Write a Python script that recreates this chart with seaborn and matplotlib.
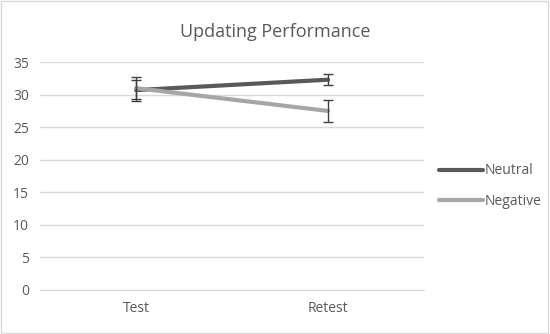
import matplotlib
matplotlib.use("Agg")
import matplotlib.pyplot as plt
import seaborn as sns
import pandas as pd

# data
sessions = ["Test", "Retest"]
neutral = [30.7, 32.3]
negative = [31.0, 27.5]
neutral_err = [1.6, 0.8]
negative_err = [1.7, 1.7]

df = pd.DataFrame({
    "x": [0, 1, 0, 1],
    "score": neutral + negative,
    "group": ["Neutral"] * 2 + ["Negative"] * 2,
})

sns.set_style("white")
plt.rcParams["font.family"] = ["Open Sans", "DejaVu Sans"]

fig = plt.figure(figsize=(5.5, 3.34), dpi=100)
ax = fig.add_axes([0.073, 0.132, 0.698, 0.682])

pal = {"Neutral": "#595959", "Negative": "#a6a6a6"}
sns.lineplot(data=df, x="x", y="score", hue="group", palette=pal,
             linewidth=3, ax=ax, legend=False)

for vals, errs in [(neutral, neutral_err), (negative, negative_err)]:
    ax.errorbar([0, 1], vals, yerr=errs, fmt="none", ecolor="#404040",
                elinewidth=1, capsize=3.5, capthick=1)

ax.set_xlim(-0.5, 1.5)
ax.set_ylim(0, 35)
ax.set_yticks(range(0, 36, 5))
ax.set_xticks([0, 1])
ax.set_xticklabels(sessions)
ax.yaxis.grid(True, color="#d9d9d9", linewidth=1)
ax.set_axisbelow(True)
for s in ["top", "right", "left"]:
    ax.spines[s].set_visible(False)
ax.spines["bottom"].set_color("#d9d9d9")
ax.tick_params(axis="both", length=0, labelsize=10, colors="#595959", pad=8)
ax.set_xlabel("")
ax.set_ylabel("")

fig.text(0.5, 0.905, "Updating Performance", ha="center", va="center",
         fontsize=13, color="#595959")

handles = [plt.Line2D([], [], color=pal[g], linewidth=3) for g in ["Neutral", "Negative"]]
leg = fig.legend(handles, ["Neutral", "Negative"], loc="center left",
                 bbox_to_anchor=(0.775, 0.443), frameon=False, fontsize=10,
                 handlelength=3.2, handletextpad=0.1, labelspacing=1.1,
                 labelcolor="#595959")

fig.patches.append(plt.Rectangle((0.002, 0.003), 0.995, 0.994, transform=fig.transFigure,
                                 fill=False, edgecolor="#d9d9d9", linewidth=1))

fig.savefig("out.png", dpi=100)
